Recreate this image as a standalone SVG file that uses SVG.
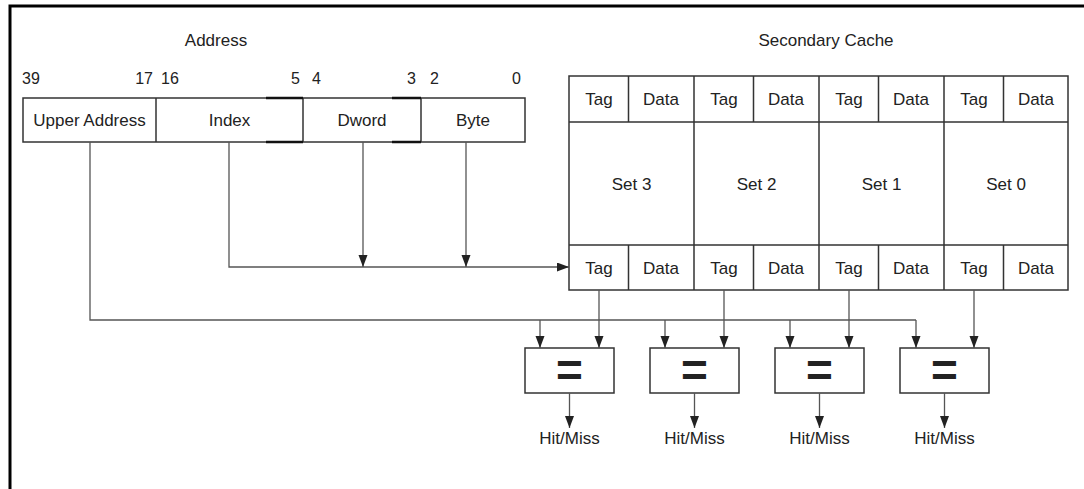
<svg xmlns="http://www.w3.org/2000/svg" width="1084" height="489" viewBox="0 0 1084 489">
  <defs>
    <marker id="arrow" markerUnits="userSpaceOnUse" markerWidth="12" markerHeight="10" refX="12" refY="4.5" orient="auto">
      <path d="M0,0 L12,4.5 L0,9 z" fill="#222"/>
    </marker>
    <style>
      text { font-family: "Liberation Sans", Arial, sans-serif; fill: #222; }
      .lbl { font-size: 17px; text-anchor: middle; }
      .bit { font-size: 16px; }
      .box { fill: #fff; stroke: #333; stroke-width: 1.5; }
      .cell { fill: none; stroke: #333; stroke-width: 1.5; }
      .thick { stroke: #111; stroke-width: 2.5; fill: none; }
      .wire { fill: none; stroke: #555; stroke-width: 1.3; }
      .arrowed { marker-end: url(#arrow); }
      .eq { font-size: 46px; font-weight: bold; text-anchor: middle; }
      .frame { stroke: #000; stroke-width: 3; fill: none; }
    </style>
  </defs>

  <rect width="1084" height="489" fill="#fff"/>

  <!-- outer frame (top and left rules) -->
  <path class="frame" d="M10,489 V6 H1084"/>

  <!-- address register -->
  <g id="address">
    <text class="lbl" x="216" y="46">Address</text>
    <text class="bit" x="22" y="84">39</text>
    <text class="bit" x="153" y="84" text-anchor="end">17</text>
    <text class="bit" x="161" y="84">16</text>
    <text class="bit" x="300" y="84" text-anchor="end">5</text>
    <text class="bit" x="312" y="84">4</text>
    <text class="bit" x="416" y="84" text-anchor="end">3</text>
    <text class="bit" x="430" y="84">2</text>
    <text class="bit" x="521" y="84" text-anchor="end">0</text>
    <rect class="box" x="23" y="98" width="502" height="44"/>
    <path class="cell" d="M156,98 V142 M303,98 V142 M421,98 V142"/>
    <path class="thick" d="M266,98 H303 M266,142 H303 M392,98 H421 M392,142 H421"/>
    <text class="lbl" x="89.5" y="126">Upper Address</text>
    <text class="lbl" x="229.5" y="126">Index</text>
    <text class="lbl" x="362" y="126">Dword</text>
    <text class="lbl" x="473" y="126">Byte</text>
  </g>

  <!-- four-way secondary cache -->
  <g id="cache">
    <text class="lbl" x="826" y="46">Secondary Cache</text>
    <rect class="box" x="569" y="76" width="499" height="214"/>
    <path class="cell" d="M569,122 H1068 M569,245 H1068 M694,76 V290 M819,76 V290 M944,76 V290"/>
    <path class="cell" d="M628.5,76 V122 M753.5,76 V122 M878.5,76 V122 M1003.5,76 V122 M628.5,245 V290 M753.5,245 V290 M878.5,245 V290 M1003.5,245 V290"/>
    <g class="lbl">
      <text x="599" y="105">Tag</text><text x="661" y="105">Data</text>
      <text x="724" y="105">Tag</text><text x="786" y="105">Data</text>
      <text x="849" y="105">Tag</text><text x="911" y="105">Data</text>
      <text x="974" y="105">Tag</text><text x="1036" y="105">Data</text>
      <text x="631.5" y="190">Set 3</text>
      <text x="756.5" y="190">Set 2</text>
      <text x="881.5" y="190">Set 1</text>
      <text x="1006" y="190">Set 0</text>
      <text x="599" y="274">Tag</text><text x="661" y="274">Data</text>
      <text x="724" y="274">Tag</text><text x="786" y="274">Data</text>
      <text x="849" y="274">Tag</text><text x="911" y="274">Data</text>
      <text x="974" y="274">Tag</text><text x="1036" y="274">Data</text>
    </g>
  </g>

  <!-- tag comparators -->
  <g id="cmp3">
    <rect class="box" x="525" y="348" width="89" height="45"/>
    <text class="eq" x="569.5" y="386">=</text>
  </g>
  <g id="cmp2">
    <rect class="box" x="650" y="348" width="89" height="45"/>
    <text class="eq" x="694.5" y="386">=</text>
  </g>
  <g id="cmp1">
    <rect class="box" x="775" y="348" width="89" height="45"/>
    <text class="eq" x="819.5" y="386">=</text>
  </g>
  <g id="cmp0">
    <rect class="box" x="900" y="348" width="89" height="45"/>
    <text class="eq" x="944.5" y="386">=</text>
  </g>

  <!-- comparator results -->
  <g id="results" class="lbl">
    <text x="569.5" y="444">Hit/Miss</text>
    <text x="694.5" y="444">Hit/Miss</text>
    <text x="819.5" y="444">Hit/Miss</text>
    <text x="944.5" y="444">Hit/Miss</text>
  </g>

  <!-- connectors -->
  <g id="connectors">
    <path class="wire arrowed" d="M229,142 V267 H569"/>
    <path class="wire arrowed" d="M363,142 V267"/>
    <path class="wire arrowed" d="M466,142 V267"/>
    <path class="wire" d="M90,142 V320 H916"/>
    <path class="wire arrowed" d="M540,320 V348"/>
    <path class="wire arrowed" d="M665,320 V348"/>
    <path class="wire arrowed" d="M790,320 V348"/>
    <path class="wire arrowed" d="M916,320 V348"/>
    <path class="wire arrowed" d="M599,290 V348"/>
    <path class="wire arrowed" d="M724,290 V348"/>
    <path class="wire arrowed" d="M849,290 V348"/>
    <path class="wire arrowed" d="M974,290 V348"/>
    <path class="wire arrowed" d="M569.5,393 V428"/>
    <path class="wire arrowed" d="M694.5,393 V428"/>
    <path class="wire arrowed" d="M819.5,393 V428"/>
    <path class="wire arrowed" d="M944.5,393 V428"/>
  </g>
</svg>
